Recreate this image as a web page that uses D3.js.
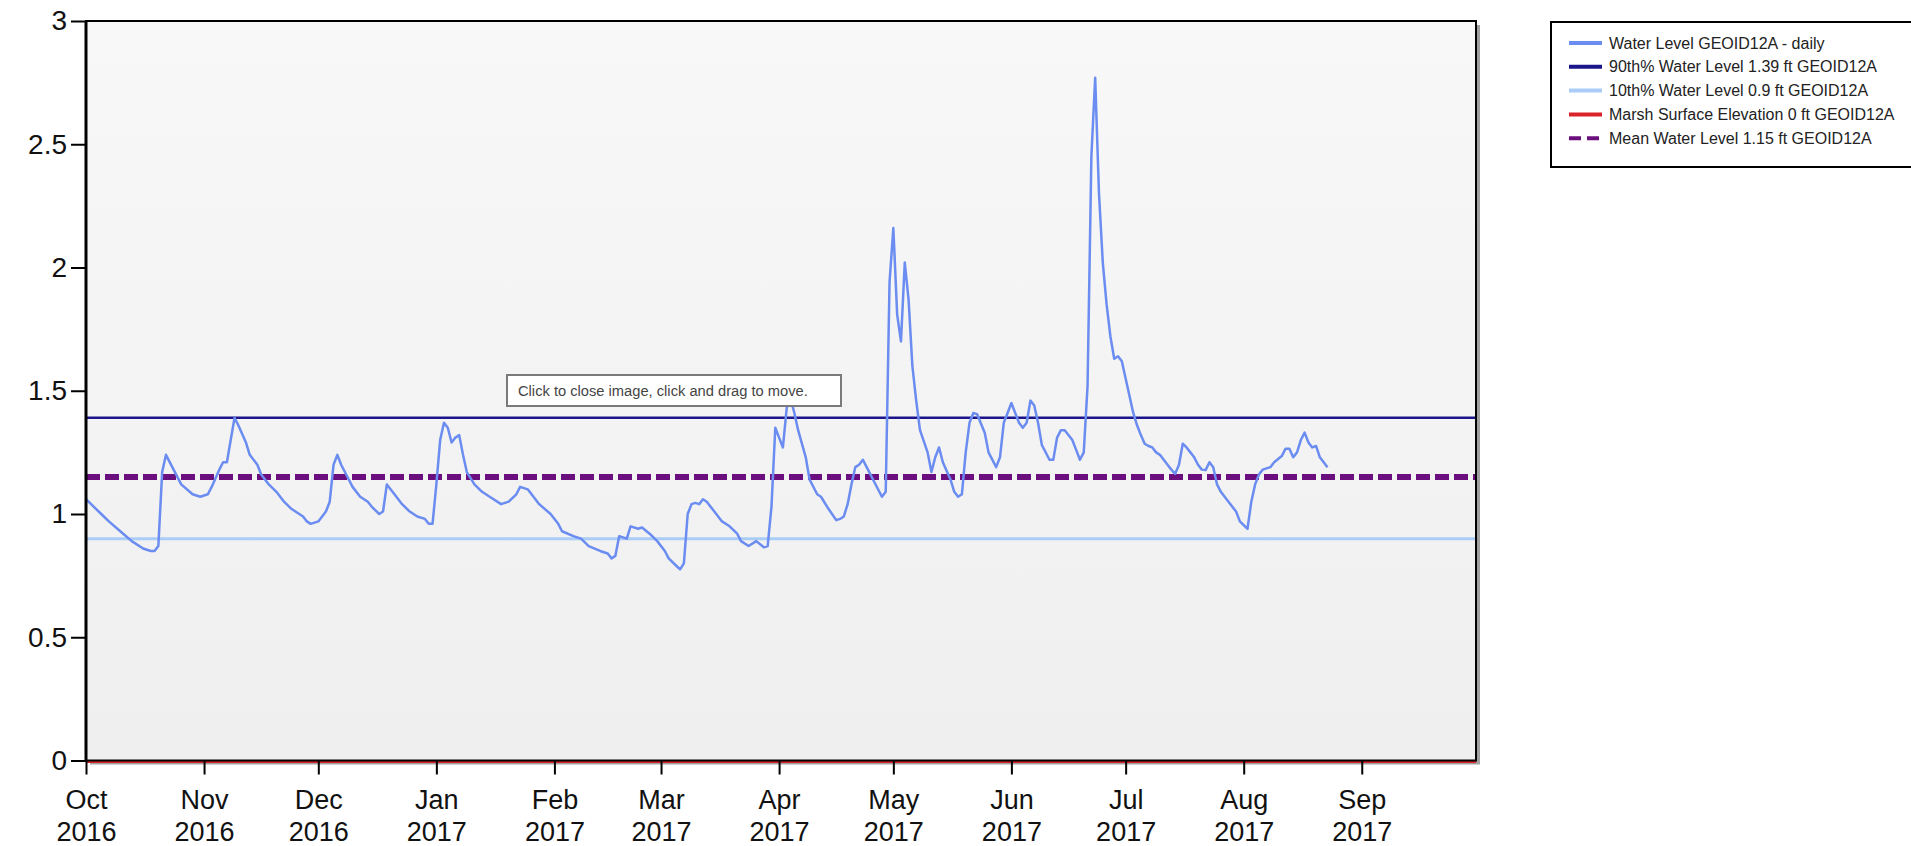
<!DOCTYPE html>
<html>
<head>
<meta charset="utf-8">
<script src="https://cdn.jsdelivr.net/npm/d3@7"></script>
<style>
  body { margin: 0; background: #fff; }
  svg { display: block; }
  text { font-family: "Liberation Sans", Arial, sans-serif; }
</style>
</head>
<body>
<div id="chart"></div>
<script>
// constants
const width = 1911,
  height = 846,
  margin = { top: 21, right: 435, bottom: 86, left: 86 };

// daily water level readings (ft, GEOID12A)
const obsDates = [
  "2016-10-01", "2016-10-05", "2016-10-07", "2016-10-10", "2016-10-13", "2016-10-16", "2016-10-18", "2016-10-19",
  "2016-10-20", "2016-10-21", "2016-10-22", "2016-10-24", "2016-10-26", "2016-10-29", "2016-10-31",
  "2016-11-02", "2016-11-03", "2016-11-05", "2016-11-06", "2016-11-07", "2016-11-08", "2016-11-09", "2016-11-10",
  "2016-11-12", "2016-11-13", "2016-11-15", "2016-11-16", "2016-11-18", "2016-11-20", "2016-11-22", "2016-11-24",
  "2016-11-27", "2016-11-28", "2016-11-29",
  "2016-12-01", "2016-12-02", "2016-12-03", "2016-12-04", "2016-12-05", "2016-12-06", "2016-12-07", "2016-12-09",
  "2016-12-10", "2016-12-12", "2016-12-14", "2016-12-15", "2016-12-17", "2016-12-18", "2016-12-19", "2016-12-21",
  "2016-12-23", "2016-12-25", "2016-12-27", "2016-12-29", "2016-12-30", "2016-12-31",
  "2017-01-01", "2017-01-02", "2017-01-03", "2017-01-04", "2017-01-05", "2017-01-06", "2017-01-07", "2017-01-08",
  "2017-01-09", "2017-01-11", "2017-01-13", "2017-01-15", "2017-01-18", "2017-01-20", "2017-01-22", "2017-01-23",
  "2017-01-25", "2017-01-26", "2017-01-28", "2017-01-31",
  "2017-02-02", "2017-02-03", "2017-02-06", "2017-02-08", "2017-02-10", "2017-02-13", "2017-02-15", "2017-02-16",
  "2017-02-17", "2017-02-18", "2017-02-20", "2017-02-21", "2017-02-23", "2017-02-24", "2017-02-26", "2017-02-28",
  "2017-03-02", "2017-03-03", "2017-03-05", "2017-03-06", "2017-03-07", "2017-03-08", "2017-03-09", "2017-03-10",
  "2017-03-11", "2017-03-12", "2017-03-13", "2017-03-15", "2017-03-17", "2017-03-19", "2017-03-21", "2017-03-22",
  "2017-03-24", "2017-03-26", "2017-03-28", "2017-03-29", "2017-03-30", "2017-03-31",
  "2017-04-01", "2017-04-02", "2017-04-03", "2017-04-04", "2017-04-05", "2017-04-06", "2017-04-08", "2017-04-09",
  "2017-04-11", "2017-04-12", "2017-04-14", "2017-04-16", "2017-04-17", "2017-04-18", "2017-04-19", "2017-04-20",
  "2017-04-21", "2017-04-22", "2017-04-23", "2017-04-24", "2017-04-26", "2017-04-28", "2017-04-29", "2017-04-30",
  "2017-05-01", "2017-05-02", "2017-05-03", "2017-05-04", "2017-05-05", "2017-05-06", "2017-05-07", "2017-05-08",
  "2017-05-10", "2017-05-11", "2017-05-12", "2017-05-13", "2017-05-14", "2017-05-16", "2017-05-17", "2017-05-18",
  "2017-05-19", "2017-05-20", "2017-05-21", "2017-05-22", "2017-05-23", "2017-05-25", "2017-05-26", "2017-05-28",
  "2017-05-29", "2017-05-30", "2017-05-31",
  "2017-06-01", "2017-06-02", "2017-06-03", "2017-06-04", "2017-06-05", "2017-06-06", "2017-06-07", "2017-06-08",
  "2017-06-09", "2017-06-11", "2017-06-12", "2017-06-13", "2017-06-14", "2017-06-15", "2017-06-17", "2017-06-18",
  "2017-06-19", "2017-06-20", "2017-06-21", "2017-06-22", "2017-06-23", "2017-06-24", "2017-06-25", "2017-06-26",
  "2017-06-27", "2017-06-28", "2017-06-29", "2017-06-30",
  "2017-07-01", "2017-07-02", "2017-07-03", "2017-07-04", "2017-07-05", "2017-07-06", "2017-07-07", "2017-07-08",
  "2017-07-09", "2017-07-10", "2017-07-11", "2017-07-12", "2017-07-13", "2017-07-14", "2017-07-15", "2017-07-16",
  "2017-07-17", "2017-07-18", "2017-07-19", "2017-07-20", "2017-07-21", "2017-07-22", "2017-07-23", "2017-07-24",
  "2017-07-25", "2017-07-26", "2017-07-28", "2017-07-30", "2017-07-31",
  "2017-08-02", "2017-08-03", "2017-08-04", "2017-08-05", "2017-08-06", "2017-08-08", "2017-08-09", "2017-08-11",
  "2017-08-12", "2017-08-13", "2017-08-14", "2017-08-15", "2017-08-16", "2017-08-17", "2017-08-18", "2017-08-19",
  "2017-08-20", "2017-08-21", "2017-08-23"
];
const waterLevel = [
  1.06, 1.00, 0.97, 0.93, 0.89, 0.86, 0.85, 0.85,
  0.87, 1.17, 1.24, 1.18, 1.12, 1.08, 1.07,
  1.08, 1.11, 1.18, 1.21, 1.21, 1.30, 1.39, 1.36,
  1.29, 1.24, 1.20, 1.16, 1.12, 1.09, 1.05, 1.02,
  0.99, 0.97, 0.96,
  0.97, 0.99, 1.01, 1.05, 1.20, 1.24, 1.20, 1.14,
  1.11, 1.07, 1.05, 1.03, 1.00, 1.01, 1.12, 1.08,
  1.04, 1.01, 0.99, 0.98, 0.96, 0.96,
  1.12, 1.30, 1.37, 1.35, 1.29, 1.31, 1.32, 1.24,
  1.17, 1.12, 1.09, 1.07, 1.04, 1.05, 1.08, 1.11,
  1.10, 1.08, 1.04, 1.00,
  0.96, 0.93, 0.91, 0.90, 0.87, 0.85, 0.84, 0.82,
  0.83, 0.91, 0.90, 0.95, 0.94, 0.945, 0.92, 0.89,
  0.85, 0.82, 0.79, 0.775, 0.80, 1.00, 1.04, 1.045,
  1.04, 1.06, 1.05, 1.01, 0.97, 0.95, 0.92, 0.89,
  0.87, 0.89, 0.865, 0.87, 1.03, 1.35,
  1.31, 1.27, 1.43, 1.47, 1.41, 1.34, 1.23, 1.14,
  1.08, 1.07, 1.02, 0.975, 0.98, 0.99, 1.04, 1.12,
  1.19, 1.20, 1.22, 1.19, 1.13, 1.07, 1.09, 1.94,
  2.16, 1.81, 1.70, 2.02, 1.87, 1.60, 1.46, 1.34,
  1.25, 1.17, 1.23, 1.27, 1.21, 1.14, 1.09, 1.07,
  1.08, 1.25, 1.37, 1.41, 1.405, 1.33, 1.25, 1.19,
  1.23, 1.37, 1.41,
  1.45, 1.41, 1.37, 1.35, 1.37, 1.46, 1.44, 1.37,
  1.28, 1.22, 1.22, 1.31, 1.34, 1.34, 1.30, 1.26,
  1.22, 1.25, 1.52, 2.45, 2.77, 2.30, 2.02, 1.85,
  1.72, 1.63, 1.64, 1.62,
  1.55, 1.48, 1.41, 1.36, 1.32, 1.285, 1.276, 1.27,
  1.25, 1.24, 1.22, 1.20, 1.18, 1.163, 1.20, 1.285,
  1.27, 1.25, 1.23, 1.20, 1.18, 1.178, 1.21, 1.19,
  1.12, 1.09, 1.05, 1.01, 0.97,
  0.94, 1.05, 1.12, 1.16, 1.18, 1.19, 1.21, 1.235,
  1.265, 1.265, 1.23, 1.25, 1.30, 1.33, 1.29, 1.27,
  1.276, 1.23, 1.19
];

// reference levels (ft)
const refNames = [
  "Water Level GEOID12A - daily",
  "90th% Water Level 1.39 ft GEOID12A",
  "10th% Water Level 0.9 ft GEOID12A",
  "Marsh Surface Elevation 0 ft GEOID12A",
  "Mean Water Level 1.15 ft GEOID12A"
];
const refLevels = [null, 1.39, 0.9, 0, 1.15];
const refColors = ["#6b8cf0", "#1b158c", "#aacdf7", "#d9232a", "#6c0f7e"];
const refWidths = [2.5, 2.5, 3, 3, 6];
const refDashes = [null, null, null, null, "14,5"];

// axis tick labels
const monthLabels = ["Oct", "Nov", "Dec", "Jan", "Feb", "Mar", "Apr", "May", "Jun", "Jul", "Aug", "Sep"];
const yearLabels = ["2016", "2016", "2016", "2017", "2017", "2017", "2017", "2017", "2017", "2017", "2017", "2017"];
const yTicks = [0, 0.5, 1, 1.5, 2, 2.5, 3];

const parse = d3.timeParse("%Y-%m-%d");
const series = obsDates.map((d, i) => ({ date: parse(d), value: waterLevel[i] }));

const svg = d3.select("#chart")
  .append("svg")
  .attr("width", width)
  .attr("height", height);

const x = d3.scaleTime()
  .domain([new Date(2016, 9, 1), new Date(2017, 9, 1)])
  .range([margin.left, width - margin.right]);

const y = d3.scaleLinear()
  .domain([0, 3])
  .range([height - margin.bottom + 0.5, margin.top]);

const defs = svg.append("defs");
const grad = defs.append("linearGradient")
  .attr("id", "bg")
  .attr("x1", 0).attr("x2", 0).attr("y1", 0).attr("y2", 1);
grad.append("stop").attr("offset", "0%").attr("stop-color", "#f8f8f8");
grad.append("stop").attr("offset", "100%").attr("stop-color", "#efefef");

const px0 = x.range()[0], px1 = x.range()[1];
const py0 = y.range()[1], py1 = y.range()[0];

// drop shadow of the plot frame
svg.append("rect")
  .attr("x", px0 + 4).attr("y", py0 + 4)
  .attr("width", px1 - px0).attr("height", py1 - py0)
  .attr("fill", "#a0a0a0");

svg.append("rect")
  .attr("x", px0).attr("y", py0)
  .attr("width", px1 - px0).attr("height", py1 - py0)
  .attr("fill", "url(#bg)");

// horizontal reference lines
refLevels.forEach((lvl, i) => {
  if (lvl === null || lvl === 0) return;
  svg.append("line")
    .attr("x1", px0).attr("x2", px1)
    .attr("y1", y(lvl)).attr("y2", y(lvl))
    .attr("stroke", refColors[i])
    .attr("stroke-width", refWidths[i])
    .attr("stroke-dasharray", refDashes[i]);
});

// daily water level
const line = d3.line()
  .x(d => x(d.date))
  .y(d => y(d.value));

svg.append("path")
  .datum(series)
  .attr("d", line)
  .attr("fill", "none")
  .attr("stroke", refColors[0])
  .attr("stroke-width", refWidths[0])
  .attr("stroke-linejoin", "round");

// marsh surface (0 ft) sits on the bottom edge
svg.append("line")
  .attr("x1", px0).attr("x2", px1)
  .attr("y1", y(0) + 1.5).attr("y2", y(0) + 1.5)
  .attr("stroke", refColors[3])
  .attr("stroke-width", 2);

// frame
svg.append("rect")
  .attr("x", px0).attr("y", py0)
  .attr("width", px1 - px0).attr("height", py1 - py0)
  .attr("fill", "none")
  .attr("stroke", "#000")
  .attr("stroke-width", 2);
svg.append("line")
  .attr("x1", px0).attr("x2", px0).attr("y1", py0).attr("y2", py1)
  .attr("stroke", "#000").attr("stroke-width", 3);

// y axis
const yAxis = svg.append("g")
  .attr("transform", `translate(${px0},0)`)
  .call(d3.axisLeft(y).tickValues(yTicks).tickFormat(d3.format("")).tickSize(15).tickPadding(4));
yAxis.select(".domain").remove();
yAxis.selectAll(".tick line").attr("stroke", "#000").attr("stroke-width", 2);
yAxis.selectAll(".tick text")
  .attr("font-size", 28)
  .attr("font-family", "Liberation Sans, Arial, sans-serif")
  .attr("fill", "#111");

// x axis, one tick per month with two-line labels
const monthTicks = monthLabels.map((m, i) => new Date(i < 3 ? 2016 : 2017, (9 + i) % 12, 1));
const xAxis = svg.append("g")
  .attr("transform", `translate(0,${py1})`)
  .call(d3.axisBottom(x).tickValues(monthTicks).tickFormat("").tickSize(14));
xAxis.select(".domain").remove();
xAxis.selectAll(".tick line").attr("stroke", "#000").attr("stroke-width", 2);
xAxis.selectAll(".tick text").remove();
xAxis.selectAll(".tick").each(function (d, i) {
  const t = d3.select(this).append("text")
    .attr("text-anchor", "middle")
    .attr("font-size", 27)
    .attr("fill", "#111");
  t.append("tspan").attr("x", 0).attr("y", 48).text(monthLabels[i]);
  t.append("tspan").attr("x", 0).attr("y", 80).text(yearLabels[i]);
});

// legend
const legend = svg.append("g");
legend.append("rect")
  .attr("x", 1551).attr("y", 22)
  .attr("width", 380).attr("height", 145)
  .attr("fill", "#fff")
  .attr("stroke", "#000")
  .attr("stroke-width", 2);
refNames.forEach((name, i) => {
  const ly = 43 + i * 23.8;
  legend.append("line")
    .attr("x1", 1569).attr("x2", 1602)
    .attr("y1", ly).attr("y2", ly)
    .attr("stroke", refColors[i])
    .attr("stroke-width", 4)
    .attr("stroke-dasharray", refDashes[i] ? "12,6" : null);
  legend.append("text")
    .attr("x", 1609).attr("y", ly + 5.5)
    .attr("font-size", 16)
    .attr("fill", "#222")
    .text(name);
});

// image-viewer hint box
const hint = svg.append("g");
hint.append("rect")
  .attr("x", 507).attr("y", 375)
  .attr("width", 334).attr("height", 31)
  .attr("fill", "#fff")
  .attr("stroke", "#7a7a7a")
  .attr("stroke-width", 2);
hint.append("text")
  .attr("x", 518).attr("y", 396)
  .attr("font-size", 14.7)
  .attr("font-family", "Open Sans, sans-serif")
  .attr("fill", "#444")
  .text("Click to close image, click and drag to move.");
</script>
</body>
</html>
